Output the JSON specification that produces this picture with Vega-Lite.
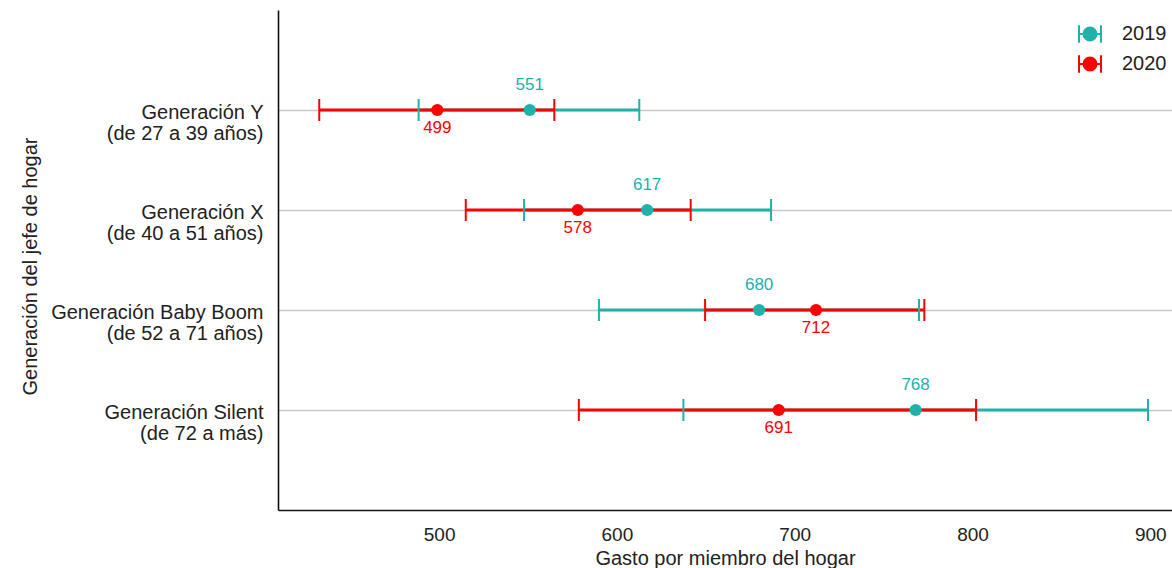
{
  "$schema": "https://vega.github.io/schema/vega-lite/v6.json",
  "width": 894,
  "height": 500,
  "autosize": {"type": "none"},
  "padding": {"left": 278, "top": 10, "right": 0, "bottom": 58},
  "background": "white",
  "config": {
    "view": {"stroke": null},
    "font": "Liberation Sans",
    "text": {"font": "Liberation Sans"}
  },
  "data": {
    "values": [
      {"gen": "Generación Y|(de 27 a 39 años)", "year": "2019", "mean": 551, "lo": 488.5, "hi": 612.6},
      {"gen": "Generación X|(de 40 a 51 años)", "year": "2019", "mean": 617, "lo": 547.8, "hi": 686.7},
      {"gen": "Generación Baby Boom|(de 52 a 71 años)", "year": "2019", "mean": 680, "lo": 589.9, "hi": 769.9},
      {"gen": "Generación Silent|(de 72 a más)", "year": "2019", "mean": 768, "lo": 637.4, "hi": 898.7},
      {"gen": "Generación Y|(de 27 a 39 años)", "year": "2020", "mean": 499, "lo": 432.6, "hi": 564.8},
      {"gen": "Generación X|(de 40 a 51 años)", "year": "2020", "mean": 578, "lo": 515.0, "hi": 641.5},
      {"gen": "Generación Baby Boom|(de 52 a 71 años)", "year": "2020", "mean": 712, "lo": 649.6, "hi": 772.9},
      {"gen": "Generación Silent|(de 72 a más)", "year": "2020", "mean": 691, "lo": 578.6, "hi": 802.0}
    ]
  },
  "encoding": {
    "y": {
      "field": "gen",
      "type": "nominal",
      "scale": {
        "type": "point",
        "padding": 1,
        "domain": [
          "Generación Y|(de 27 a 39 años)",
          "Generación X|(de 40 a 51 años)",
          "Generación Baby Boom|(de 52 a 71 años)",
          "Generación Silent|(de 72 a más)"
        ]
      },
      "axis": {
        "title": "Generación del jefe de hogar",
        "titleFontSize": 20,
        "titleFontWeight": "normal",
        "titleColor": "#222222",
        "titleX": -248,
        "titleY": 256,
        "titleAngle": -90,
        "titleAlign": "center",
        "titleBaseline": "middle",
        "labelExpr": "split(datum.label, '|')",
        "labelFontSize": 20,
        "labelLineHeight": 21,
        "labelColor": "#222222",
        "labelAlign": "right",
        "labelBaseline": "middle",
        "labelOffset": 2,
        "labelPadding": 15,
        "ticks": false,
        "tickSize": 0,
        "grid": true,
        "gridColor": "#c8c8c8",
        "gridWidth": 1.6,
        "domainColor": "#111111",
        "domainWidth": 1.6,
        "labelLimit": 400
      }
    },
    "color": {
      "field": "year",
      "type": "nominal",
      "scale": {"domain": ["2019", "2020"], "range": ["#20B2AA", "#FF0000"]},
      "legend": {
        "title": null,
        "orient": "none",
        "legendX": 800,
        "legendY": 12,
        "padding": 0,
        "symbolType": "M-1,0H1M-1,-0.8V0.8M1,-0.8V0.8M0.59,0A0.59,0.59 0 1,1 -0.59,0A0.59,0.59 0 1,1 0.59,0Z",
        "symbolSize": 484,
        "symbolStrokeWidth": 2,
        "symbolOpacity": 1,
        "labelFontSize": 20,
        "labelColor": "#222222",
        "labelOffset": 20,
        "rowPadding": 4,
        "labelLimit": 200,
        "encode": {
          "symbols": {
            "update": {
              "fill": {"scale": "color", "field": "value"},
              "stroke": {"scale": "color", "field": "value"},
              "strokeWidth": {"value": 2},
              "opacity": {"value": 1}
            }
          }
        }
      }
    }
  },
  "layer": [
    {
      "mark": {"type": "rule", "strokeWidth": 3},
      "encoding": {
        "x": {
          "field": "lo",
          "type": "quantitative",
          "scale": {"domain": [409.4, 912.2], "nice": false, "zero": false},
          "axis": {
            "title": "Gasto por miembro del hogar",
            "titleFontSize": 20,
            "titleFontWeight": "normal",
            "titleColor": "#222222",
            "titlePadding": 4,
            "values": [500, 600, 700, 800, 900],
            "labelFontSize": 19,
            "labelColor": "#222222",
            "labelPadding": 15,
            "ticks": false,
            "tickSize": 0,
            "grid": false,
            "domainColor": "#111111",
            "domainWidth": 1.6
          }
        },
        "x2": {"field": "hi"}
      }
    },
    {
      "mark": {"type": "tick", "orient": "vertical", "size": 22, "thickness": 2, "opacity": 1},
      "encoding": {"x": {"field": "lo", "type": "quantitative"}}
    },
    {
      "mark": {"type": "tick", "orient": "vertical", "size": 22, "thickness": 2, "opacity": 1},
      "encoding": {"x": {"field": "hi", "type": "quantitative"}}
    },
    {
      "mark": {"type": "circle", "size": 150, "opacity": 1},
      "encoding": {"x": {"field": "mean", "type": "quantitative"}}
    },
    {
      "transform": [{"filter": "datum.year == '2019'"}],
      "mark": {"type": "text", "dy": -25, "fontSize": 17, "baseline": "middle", "align": "center"},
      "encoding": {
        "x": {"field": "mean", "type": "quantitative"},
        "text": {"field": "mean", "type": "quantitative"}
      }
    },
    {
      "transform": [{"filter": "datum.year == '2020'"}],
      "mark": {"type": "text", "dy": 18, "fontSize": 17, "baseline": "middle", "align": "center"},
      "encoding": {
        "x": {"field": "mean", "type": "quantitative"},
        "text": {"field": "mean", "type": "quantitative"}
      }
    }
  ]
}
